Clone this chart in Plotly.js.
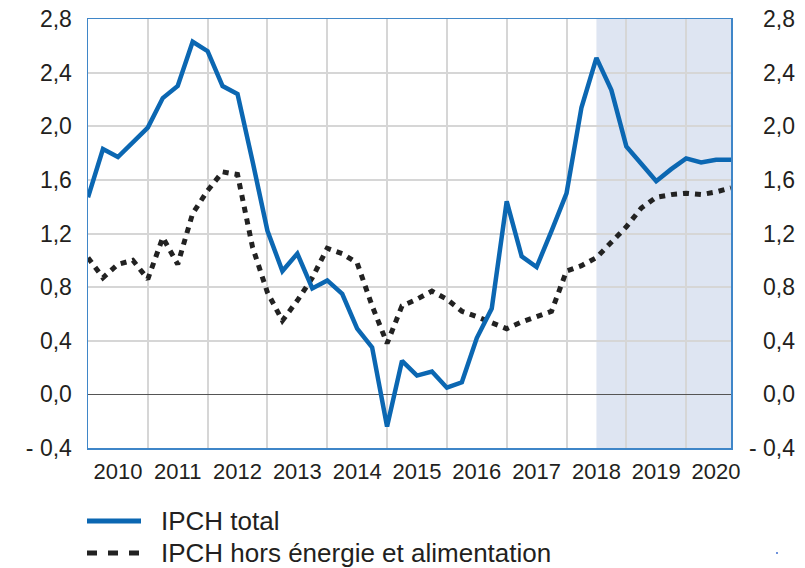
<!DOCTYPE html>
<html>
<head>
<meta charset="utf-8">
<script src="https://cdn.plot.ly/plotly-3.0.1.min.js"></script>
<style>html,body{margin:0;padding:0;background:#fff;}#chart{width:805px;height:568px;}</style>
</head>
<body>
<div id="chart"></div>
<script>
// Quarterly periods (year + quarter fraction)
var periods = [2010,2010.25,2010.5,2010.75,2011,2011.25,2011.5,2011.75,2012,2012.25,2012.5,2012.75,
  2013,2013.25,2013.5,2013.75,2014,2014.25,2014.5,2014.75,2015,2015.25,2015.5,2015.75,
  2016,2016.25,2016.5,2016.75,2017,2017.25,2017.5,2017.75,2018,2018.25,2018.5,2018.75,
  2019,2019.25,2019.5,2019.75,2020,2020.25,2020.5,2020.75];

var ipchTotal = [1.47,1.83,1.77,1.88,1.99,2.21,2.30,2.63,2.56,2.30,2.24,1.74,
  1.22,0.92,1.05,0.79,0.85,0.75,0.49,0.35,-0.24,0.25,0.14,0.17,
  0.05,0.09,0.42,0.64,1.44,1.03,0.95,1.22,1.50,2.14,2.51,2.27,
  1.85,1.72,1.59,1.68,1.76,1.73,1.75,1.75];

var ipchCore = [1.02,0.87,0.97,1.00,0.86,1.17,0.97,1.35,1.52,1.66,1.64,1.10,
  0.76,0.55,0.70,0.87,1.09,1.05,0.98,0.66,0.38,0.66,0.71,0.77,
  0.71,0.62,0.58,0.53,0.49,0.54,0.58,0.62,0.92,0.96,1.02,1.13,
  1.25,1.39,1.47,1.49,1.50,1.49,1.51,1.54];

var yearLabels = ['2010','2011','2012','2013','2014','2015','2016','2017','2018','2019','2020'];
var yearCenters = [2010.5,2011.5,2012.5,2013.5,2014.5,2015.5,2016.5,2017.5,2018.5,2019.5,2020.5];
var yearBounds = [2011,2012,2013,2014,2015,2016,2017,2018,2019,2020];
var yTickVals = [-0.4,0,0.4,0.8,1.2,1.6,2.0,2.4,2.8];
var yTickText = ['- 0,4','0,0','0,4','0,8','1,2','1,6','2,0','2,4','2,8'];
var projectionStart = 2018.5;
var projectionEnd = 2020.75;
var seriesNames = ['IPCH total','IPCH hors énergie et alimentation'];

var txt = '#231f20';
var font = 'Liberation Sans, Arial, sans-serif';
var blue = '#0b67b2';
var frame = '#3f86c8';
var grid = '#d6d6d6';

var traces = [
  {x: periods, y: ipchCore, name: seriesNames[1], type: 'scatter', mode: 'lines',
   line: {color: '#222222', width: 5, dash: '6px,6px'}, yaxis: 'y', hoverinfo: 'x+y'},
  {x: periods, y: ipchTotal, name: seriesNames[0], type: 'scatter', mode: 'lines',
   line: {color: blue, width: 4.5}, yaxis: 'y2', hoverinfo: 'x+y'}
];

var W = 712; // paper width in px
function px(v){ return (v - 88) / W; }
function py(v){ return (448 - v) / 429; }

var layout = {
  width: 805, height: 568,
  margin: {l: 88, r: 5, t: 19, b: 120},
  paper_bgcolor: '#ffffff', plot_bgcolor: '#ffffff',
  showlegend: false,
  font: {family: font, color: txt},
  xaxis: {
    domain: [0, 643 / W], range: [2010, 2020.75],
    tickmode: 'array', tickvals: yearCenters, ticktext: yearLabels,
    showgrid: false, zeroline: false, ticks: '',
    minor: {tickmode: 'array', tickvals: yearBounds, showgrid: true, gridcolor: grid, gridwidth: 2, ticks: ''},
    showline: true, mirror: true, linecolor: frame, linewidth: 1.5,
    tickfont: {size: 22, color: txt, family: font}, ticklabelstandoff: 3
  },
  yaxis: {
    range: [-0.4, 2.8], tickmode: 'array', tickvals: yTickVals, ticktext: yTickText,
    showgrid: true, gridcolor: grid, gridwidth: 2,
    zeroline: true, zerolinecolor: '#555555', zerolinewidth: 1.5,
    showline: true, mirror: true, linecolor: frame, linewidth: 1.5, ticks: '',
    tickfont: {size: 23, color: txt, family: font}, ticklabelstandoff: 10
  },
  yaxis2: {
    overlaying: 'y', side: 'left', anchor: 'free', position: 1,
    range: [-0.4, 2.8], tickmode: 'array', tickvals: yTickVals, ticktext: yTickText,
    showgrid: false, zeroline: false, showline: false, ticks: '',
    tickfont: {size: 23, color: txt, family: font}, ticklabelstandoff: 5
  },
  shapes: [
    {type: 'rect', xref: 'x', yref: 'paper', x0: projectionStart, x1: projectionEnd, y0: 0, y1: 1,
     fillcolor: '#dee5f2', line: {width: 0}, layer: 'below'},
    {type: 'line', xref: 'paper', yref: 'paper', x0: px(87), x1: px(141), y0: py(521), y1: py(521),
     line: {color: blue, width: 5}},
    {type: 'line', xref: 'paper', yref: 'paper', x0: px(87), x1: px(141), y0: py(553), y1: py(553),
     line: {color: '#222222', width: 5, dash: '10px,11px'}},
    {type: 'circle', xref: 'paper', yref: 'paper', x0: px(776), x1: px(778), y0: py(554), y1: py(552),
     fillcolor: '#3f6fd0', line: {width: 0}}
  ],
  annotations: [
    {xref: 'paper', yref: 'paper', x: px(159), y: py(521), xanchor: 'left', yanchor: 'middle',
     text: seriesNames[0], showarrow: false, font: {size: 26, color: txt, family: font}},
    {xref: 'paper', yref: 'paper', x: px(159), y: py(553), xanchor: 'left', yanchor: 'middle',
     text: seriesNames[1], showarrow: false, font: {size: 26, color: txt, family: font}}
  ]
};

Plotly.newPlot('chart', traces, layout, {displayModeBar: false, staticPlot: true});
</script>
</body>
</html>
